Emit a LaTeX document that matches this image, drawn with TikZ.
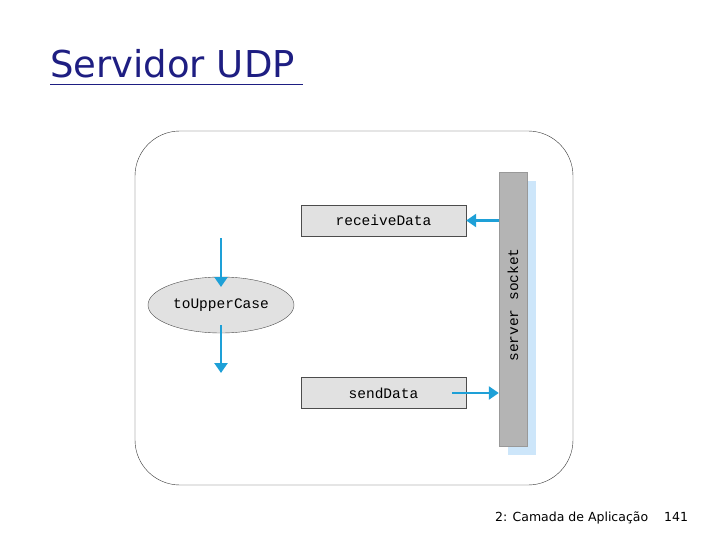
\documentclass[tikz,border=0pt]{standalone}
\usepackage{fontspec}
\setsansfont{DejaVu Sans}
\setmonofont{Liberation Mono}
\usetikzlibrary{shapes.geometric,arrows.meta}
\definecolor{ttl}{RGB}{30,30,130}
\definecolor{arr}{RGB}{30,160,215}
\definecolor{boxg}{RGB}{225,225,225}
\definecolor{barg}{RGB}{180,180,180}
\definecolor{barb}{RGB}{205,230,250}
\tikzset{
 mono/.style={font=\ttfamily\fontsize{14.5}{14.5}\selectfont},
 fbox/.style={draw=black!70,fill=boxg,minimum width=165pt,minimum height=31pt,inner sep=0pt,mono},
 flow/.style={draw=arr,line width=2.6pt,-{Triangle[length=10pt,width=13pt]}}
}
\begin{document}
\begin{tikzpicture}[x=1pt,y=-1pt]
\useasboundingbox (0,0) rectangle (720,540);
\node[anchor=base west,text=ttl,font=\sffamily\fontsize{37}{37}\selectfont,inner sep=0pt] (title) at (50,78) {Servidor UDP};
\draw[ttl,line width=1pt] (50,85) -- (303,85);
\node[draw=black!80,rounded corners=45pt,minimum width=438pt,minimum height=354pt,inner sep=0pt] (frame) at (354,308) {};
\node[fill=barb,minimum width=28pt,minimum height=274pt,inner sep=0pt] (bar2) at (522,318) {};
\node[fill=barg,draw=black!40,minimum width=28pt,minimum height=274pt,inner sep=0pt] (bar) at (513,309) {};
\node[rotate=90,mono] (sock) at (513,305) {server socket};
\node[fbox] (recv) at (383.5,220.5) {receiveData};
\node[fbox] (send) at (383.5,393) {sendData};
\node[ellipse,draw=black!70,fill=boxg,minimum width=146pt,minimum height=56pt,inner sep=0pt,mono] (up) at (221,305) {toUpperCase};
\coordinate (a1) at (221,238); \coordinate (a2) at (221,287);
\coordinate (b1) at (221,325); \coordinate (b2) at (221,373);
\draw[flow] (a1) -- (a2);
\draw[flow] (b1) -- (b2);
\draw[flow] (bar.west |- recv.east) -- (recv.east);
\draw[flow] ([xshift=-14pt]send.east) -- (bar.west |- send.east);
\node[anchor=base west,font=\sffamily\fontsize{12.5}{12.5}\selectfont,inner sep=0pt] (foot) at (495,521) {2: Camada de Aplicação};
\node[anchor=base west,font=\sffamily\fontsize{12.5}{12.5}\selectfont,inner sep=0pt] (pg) at (664,521) {141};
\end{tikzpicture}
\end{document}
